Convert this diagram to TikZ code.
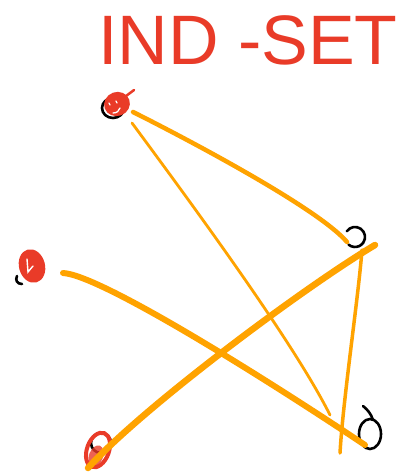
\documentclass[tikz,border=0pt]{standalone}
\usepackage{fontspec}
\usetikzlibrary{calc}
\newfontfamily\titlefont{Liberation Sans}
\definecolor{pen}{RGB}{233,59,40}
\definecolor{hl}{RGB}{255,163,0}
\begin{document}
\begin{tikzpicture}[x=1pt,y=-1pt,
  vtx/.style={circle,minimum size=24pt,inner sep=0pt},
  edge/.style={draw=hl,line cap=round,line join=round},
  ink/.style={draw=black,line width=2.6pt,line cap=round},
  redblob/.style={fill=pen}]
\useasboundingbox (0,0) rectangle (401,473);
\fill[white] (0,0) rectangle (401,473);

% title
\node[text=pen,font=\titlefont\fontsize{70}{70}\selectfont] (title) at (248,40) {IND -SET};

% vertices
\node[vtx] (A) at (113,108) {};
\node[vtx] (B) at (30,267) {};
\node[vtx] (C) at (355,237) {};
\node[vtx] (D) at (370,434) {};
\node[vtx] (E) at (101,443) {};

% vertex A: black circle, red fill with face
\draw[ink] (A.center) ellipse[x radius=11,y radius=10];
\fill[redblob,rotate around={20:(117,104)}] (117,104) ellipse[x radius=13,y radius=12];
\draw[pen,line width=2.5pt,line cap=round] (126,96) -- (134,90);
\draw[white,line width=1.3pt,line cap=round] (109,103) -- (110,105);
\draw[white,line width=1.3pt,line cap=round] (116,101) -- (117,103);
\draw[white,line width=1.3pt,line cap=round] (113,113) .. controls (117,113) and (119,111) .. (120,108);

% vertex B
\draw[ink] (17,276) .. controls (15,280) and (17,284) .. (22,284);
\fill[redblob,rotate around={15:(32,266)}] (32,266) ellipse[x radius=13,y radius=17];
\draw[white,line width=1.4pt,line cap=round] (27,259) -- (28,272) -- (33,266);

% vertex C: open circle
\draw[ink] (C.center) ++(215:10) arc[start angle=215,end angle=490,x radius=10,y radius=10];

% vertex D: circle with tail
\draw[ink] (D.center) ellipse[x radius=11,y radius=15];
\draw[ink] (363,406) .. controls (368,410) and (371,414) .. (373,420);

% vertex E
\draw[ink] (E.center) ellipse[x radius=10,y radius=10];
\draw[pen,line width=4pt,rotate around={-20:(98,450)}] (98,450) ellipse[x radius=11,y radius=18];
\fill[pen,opacity=0.8,rotate around={-20:(96,456)}] (96,456) ellipse[x radius=7,y radius=11];

% edges
\draw[edge,line width=4.5pt]
  ($(A.center)+(20,4)$) .. controls (185,138) and (318,208) .. ($(C.center)+(-8,5)$);
\draw[edge,line width=2.8pt]
  ($(A.center)+(19,15)$) .. controls (200,215) and (295,345) .. ($(D.center)+(-40,-19)$);
\draw[edge,line width=6pt]
  ($(B.center)+(33,6)$) .. controls (100,275) and (260,375) .. ($(D.center)+(-5,11)$);
\draw[edge,line width=6.5pt]
  ($(E.center)+(-13,25)$) .. controls (140,410) and (300,290) .. ($(C.center)+(20,8)$);
\draw[edge,line width=3.5pt]
  ($(C.center)+(7,13)$) .. controls (358,300) and (343,400) .. ($(D.center)+(-30,19)$);
\end{tikzpicture}
\end{document}
